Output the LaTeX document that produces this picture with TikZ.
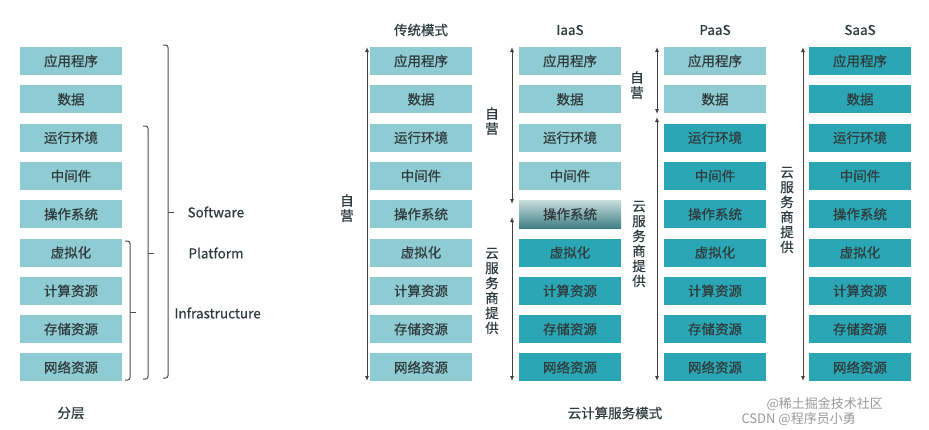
\documentclass[tikz,border=0pt]{standalone}
\usepackage{fontspec}
\setmainfont{Noto Sans CJK SC}[FakeBold=0.6]
\newfontfamily\lat{Noto Sans CJK SC}
\usetikzlibrary{arrows.meta}
\definecolor{lt}{HTML}{8FCBD2}
\definecolor{dk}{HTML}{2BA6B4}
\definecolor{gtop}{HTML}{C9DCDD}
\definecolor{gbot}{HTML}{3E7F86}
\definecolor{tx}{HTML}{2F3B3D}
\begin{document}
\begin{tikzpicture}[x=1pt,y=-1pt,
  box/.style={minimum width=102pt,minimum height=28pt,inner sep=0pt,font=\fontsize{13.5}{14}\selectfont,text=tx},
  L/.style={box,fill=lt}, D/.style={box,fill=dk},
  G/.style={box,top color=gtop,bottom color=gbot},
  hd/.style={font=\fontsize{13.5}{14}\selectfont,text=tx},
  vl/.style={font=\fontsize{13.5}{15}\selectfont,text=tx,align=center,inner sep=0pt},
  arr/.style={draw=black!75,line width=0.9pt,{Latex[length=5pt,width=4pt]}-{Latex[length=5pt,width=4pt]}},
  br/.style={draw=black!70,line width=1pt,rounded corners=2.5pt}]
\useasboundingbox (0,0) rectangle (929,429);
\def\names{应用程序,数据,运行环境,中间件,操作系统,虚拟化,计算资源,存储资源,网络资源}
\foreach \t [count=\i] in \names {\node[L] (a\i) at (71,{61+(\i-1)*38.3}) {\t};}
\foreach \t [count=\i] in \names {\node[L] (b\i) at (421,{61+(\i-1)*38.3}) {\t};}
\foreach \t [count=\i] in \names {\ifnum\i<5 \node[L] (c\i) at (570,{61+(\i-1)*38.3}) {\t};\else\ifnum\i=5 \node[G] (c\i) at (570,{61+(\i-1)*38.3}) {\t};\else \node[D] (c\i) at (570,{61+(\i-1)*38.3}) {\t};\fi\fi}
\foreach \t [count=\i] in \names {\ifnum\i<3 \node[L] (d\i) at (715,{61+(\i-1)*38.3}) {\t};\else \node[D] (d\i) at (715,{61+(\i-1)*38.3}) {\t};\fi}
\foreach \t [count=\i] in \names {\node[D] (e\i) at (860,{61+(\i-1)*38.3}) {\t};}
\node[hd] (hb) at (421,30) {传统模式};
\node[hd] (hc) at (570,30) {IaaS};
\node[hd] (hd) at (715,30) {PaaS};
\node[hd] (he) at (860,30) {SaaS};
\node[hd] (f1) at (71,413) {分层};
\node[hd] (f2) at (615,413) {云计算服务模式};
\draw[br] (163,45) -- (168,45) -- (168,378) -- (163,378);
\draw[br] (168,212) -- (174,212);
\draw[br] (143,126) -- (148,126) -- (148,379) -- (143,379);
\draw[br] (148,253) -- (154,253);
\draw[br] (125,241) -- (130,241) -- (130,380) -- (125,380);
\draw[br] (130,312) -- (136,312);
\node[hd,anchor=west] (s1) at (184,212) {Software};
\node[hd,anchor=west] (s2) at (185,253) {Platform};
\node[hd,anchor=west] (s3) at (171,313) {Infrastructure};
\coordinate (p1) at (367,47); \coordinate (p2) at (367,381);
\draw[arr] (p1) -- (p2);
\coordinate (q1) at (512,47); \coordinate (q2) at (512,204);
\coordinate (q3) at (512,217); \coordinate (q4) at (512,381);
\draw[arr] (q1) -- (q2); \draw[arr] (q3) -- (q4);
\coordinate (r1) at (657,47); \coordinate (r2) at (657,114);
\coordinate (r3) at (657,117); \coordinate (r4) at (657,381);
\draw[arr] (r1) -- (r2); \draw[arr] (r3) -- (r4);
\coordinate (t1) at (803,47); \coordinate (t2) at (803,381);
\draw[arr] (t1) -- (t2);
\node[vl] (v1) at (347,208) {自\\营};
\node[vl] (v2) at (492,121) {自\\营};
\node[vl] (v3) at (492,291) {云\\服\\务\\商\\提\\供};
\node[vl] (v4) at (637,85) {自\\营};
\node[vl] (v5) at (639,244) {云\\服\\务\\商\\提\\供};
\node[vl] (v6) at (787,210) {云\\服\\务\\商\\提\\供};
\node[font=\lat\fontsize{13}{13}\selectfont,text=black!40,anchor=west] (w1) at (763,404) {@稀土掘金技术社区};
\node[font=\lat\fontsize{13}{13}\selectfont,text=black!40,anchor=west] (w2) at (738,419) {CSDN @程序员小勇};
\end{tikzpicture}
\end{document}
